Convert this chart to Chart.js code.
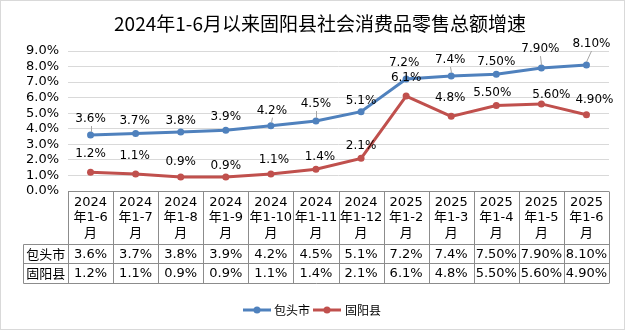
<!DOCTYPE html>
<html>
<head>
<meta charset="utf-8">
<script src="https://cdn.jsdelivr.net/npm/chart.js@4.4.1/dist/chart.umd.min.js"></script>
<style>
  html, body { margin: 0; padding: 0; background: #fff; }
  canvas { display: block; }
</style>
</head>
<body>
<canvas id="chart" width="625" height="330"></canvas>
<script>
var titleText = '2024年1-6月以来固阳县社会消费品零售总额增速';
var categories = ['2024年1-6月', '2024年1-7月', '2024年1-8月', '2024年1-9月', '2024年1-10月', '2024年1-11月',
  '2024年1-12月', '2025年1-2月', '2025年1-3月', '2025年1-4月', '2025年1-5月', '2025年1-6月'];
var seriesNames = ['包头市', '固阳县'];
var baotou = [3.6, 3.7, 3.8, 3.9, 4.2, 4.5, 5.1, 7.2, 7.4, 7.5, 7.9, 8.1];
var guyang = [1.2, 1.1, 0.9, 0.9, 1.1, 1.4, 2.1, 6.1, 4.8, 5.5, 5.6, 4.9];
var labelDecimals = [1, 1, 1, 1, 1, 1, 1, 1, 1, 2, 2, 2];
var yTicks = [0, 1, 2, 3, 4, 5, 6, 7, 8, 9];

var colors = ['#4f81bd', '#c0504d'];
var FONT = '"DejaVu Sans", "Noto Sans CJK SC", sans-serif';
var CJK = '"Noto Sans CJK SC", "DejaVu Sans", sans-serif';

// manual label placement (pixel offsets from the point), like the moved labels in the original
var labelOffsets = [
  [[0, -16], [-1, -13], [0, -11], [0, -13], [1, -15], [0, -17], [0, -11], [-2, -16], [-1, -16], [0, -12], [-1, -19], [5, -21]],
  [[0, -18], [-1, -18], [0, -15], [0, -11], [3, -14], [4, -12], [0, -12], [0, -18], [-1, -18], [-4, -13], [10, -9], [8, -15]]
];
var leaderLines = [
  [true, false, false, false, true, true, false, false, true, false, true, true],
  [false, false, false, false, false, false, false, false, false, false, false, false]
];

function fmt(v, d) { return v.toFixed(d) + '%'; }

var tablePlugin = {
  id: 'excelTable',
  afterDraw: function (chart) {
    var ctx = chart.ctx;
    var area = chart.chartArea;
    var xs = chart.scales.x;
    var n = categories.length;
    var colW = (area.right - area.left) / n;
    var top = Math.round(area.bottom) + 0.5;
    var r1 = 244.5, r2 = 263.5, r3 = 283.5;
    var tableLeft = 23.5;

    ctx.save();
    // outer border
    ctx.strokeStyle = '#d9d9d9';
    ctx.lineWidth = 1;
    ctx.strokeRect(0.5, 0.5, chart.width - 1, chart.height - 1);

    // title
    ctx.fillStyle = '#000';
    ctx.font = '19px ' + CJK;
    ctx.textAlign = 'center';
    ctx.textBaseline = 'middle';
    ctx.fillText(titleText, 320, 24);

    // table grid
    ctx.strokeStyle = '#8c8c8c';
    ctx.beginPath();
    ctx.moveTo(area.left, top); ctx.lineTo(area.right, top);
    [r1, r2, r3].forEach(function (y) { ctx.moveTo(tableLeft, y); ctx.lineTo(area.right, y); });
    ctx.moveTo(tableLeft, r1); ctx.lineTo(tableLeft, r3);
    for (var i = 0; i <= n; i++) {
      var x = Math.round(area.left + i * colW) + 0.5;
      ctx.moveTo(x, top); ctx.lineTo(x, r3);
    }
    ctx.stroke();

    // header text
    ctx.fillStyle = '#000';
    ctx.font = '13px ' + FONT;
    var mid = (top + r1) / 2;
    categories.forEach(function (c, i) {
      var cx = xs.getPixelForValue(i);
      var lines = [c.slice(0, 4), c.slice(4, -1), c.slice(-1)];
      lines.forEach(function (t, k) { ctx.fillText(t, cx, mid + (k - 1) * 15.3); });
      ctx.fillText(fmt(baotou[i], labelDecimals[i]), cx, (r1 + r2) / 2 + 0.5);
      ctx.fillText(fmt(guyang[i], labelDecimals[i]), cx, (r2 + r3) / 2 + 0.5);
    });
    ctx.font = '13px ' + CJK;
    ctx.fillText(seriesNames[0], (tableLeft + area.left) / 2, (r1 + r2) / 2);
    ctx.fillText(seriesNames[1], (tableLeft + area.left) / 2, (r2 + r3) / 2);

    // legend
    var ly = 310;
    [[243, 274], [313, 345]].forEach(function (p, k) {
      ctx.strokeStyle = colors[k];
      ctx.lineWidth = 3;
      ctx.beginPath(); ctx.moveTo(p[0], ly); ctx.lineTo(p[0] + 28, ly); ctx.stroke();
      ctx.fillStyle = colors[k];
      ctx.beginPath(); ctx.arc(p[0] + 14, ly, 3.5, 0, Math.PI * 2); ctx.fill();
      ctx.fillStyle = '#000';
      ctx.font = '12px ' + CJK;
      ctx.textAlign = 'left';
      ctx.fillText(seriesNames[k], p[1], ly);
    });
    ctx.restore();
  },
  afterDatasetsDraw: function (chart) {
    var ctx = chart.ctx;
    ctx.save();
    ctx.font = '12px ' + FONT;
    ctx.textAlign = 'center';
    ctx.textBaseline = 'middle';
    chart.data.datasets.forEach(function (ds, d) {
      var meta = chart.getDatasetMeta(d);
      meta.data.forEach(function (pt, i) {
        var off = labelOffsets[d][i];
        var lx = pt.x + off[0], ly = pt.y + off[1];
        if (leaderLines[d][i]) {
          ctx.strokeStyle = '#a6a6a6';
          ctx.lineWidth = 1;
          ctx.beginPath();
          ctx.moveTo(Math.round(lx) + 0.5, ly + 7);
          ctx.lineTo(Math.round(pt.x) + 0.5, pt.y - 3);
          ctx.stroke();
        }
        ctx.fillStyle = '#000';
        ctx.fillText(fmt(ds.data[i], labelDecimals[i]), lx, ly);
      });
    });
    ctx.restore();
  }
};

new Chart(document.getElementById('chart'), {
  type: 'line',
  data: {
    labels: categories,
    datasets: [
      { label: seriesNames[0], data: baotou, borderColor: colors[0], backgroundColor: colors[0] },
      { label: seriesNames[1], data: guyang, borderColor: colors[1], backgroundColor: colors[1] }
    ]
  },
  options: {
    responsive: false,
    animation: false,
    devicePixelRatio: 1,
    layout: { padding: { top: 51, bottom: 139, left: 0, right: 16 } },
    elements: {
      line: { borderWidth: 3, tension: 0 },
      point: { radius: 3.5, borderWidth: 0, hoverRadius: 3.5 }
    },
    plugins: {
      legend: { display: false },
      title: { display: false },
      tooltip: { enabled: false }
    },
    scales: {
      x: { type: 'category', offset: true, display: false },
      y: {
        min: yTicks[0],
        max: yTicks[yTicks.length - 1],
        afterFit: function (scale) { scale.width = 68; },
        afterBuildTicks: function (scale) { scale.ticks = yTicks.map(function (v) { return { value: v }; }); },
        border: { display: false },
        grid: {
          drawTicks: false,
          color: function (c) { return c.tick && c.tick.value === 0 ? 'rgba(0,0,0,0)' : '#d9d9d9'; }
        },
        ticks: {
          autoSkip: false,
          padding: 9,
          color: '#000',
          font: { family: FONT, size: 13 },
          callback: function (v) { return v.toFixed(1) + '%'; }
        }
      }
    }
  },
  plugins: [tablePlugin]
});
</script>
</body>
</html>
